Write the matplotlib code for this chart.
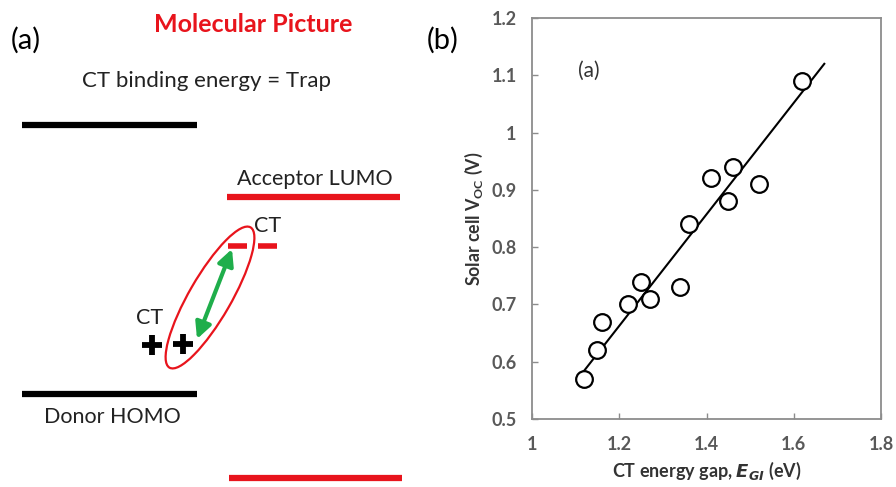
import matplotlib
matplotlib.use("Agg")
import matplotlib.pyplot as plt
from matplotlib.patches import Ellipse, FancyArrowPatch

plt.rcParams['font.family'] = ['Lato', 'DejaVu Sans']
plt.rcParams['mathtext.fontset'] = 'custom'
plt.rcParams['mathtext.rm'] = 'Lato'
plt.rcParams['mathtext.bf'] = 'Lato:bold'
plt.rcParams['mathtext.bfit'] = 'DejaVu Sans:italic:bold'

# ---- data (panel b) ----
ct_gap = [1.12, 1.15, 1.16, 1.22, 1.25, 1.27, 1.34, 1.36, 1.41, 1.45, 1.46, 1.52, 1.62]
voc = [0.57, 0.62, 0.67, 0.70, 0.74, 0.71, 0.73, 0.84, 0.92, 0.88, 0.94, 0.91, 1.09]
fit_x = [1.11, 1.67]
fit_y = [0.575, 1.12]
x_ticks = [1.0, 1.2, 1.4, 1.6, 1.8]
x_tick_labels = ["1", "1.2", "1.4", "1.6", "1.8"]
y_ticks = [0.5, 0.6, 0.7, 0.8, 0.9, 1.0, 1.1, 1.2]
y_tick_labels = ["0.5", "0.6", "0.7", "0.8", "0.9", "1", "1.1", "1.2"]

W, H = 896, 487
fig = plt.figure(figsize=(W / 100, H / 100), dpi=100)

# ---- panel (a): diagram in pixel coordinates ----
axd = fig.add_axes([0, 0, 421 / W, 1])
axd.set_xlim(0, 421)
axd.set_ylim(H, 0)
axd.axis('off')

red = '#e8141c'
green = '#1fae4b'
txt = '#222222'

axd.text(11, 40, "(a)", fontsize=21, ha='left', va='center', color='black')
axd.text(253, 25, "Molecular Picture", fontsize=18, fontweight='bold',
         ha='center', va='center', color=red)
axd.text(206, 81, "CT binding energy = Trap", fontsize=16, ha='center',
         va='center', color=txt)

# energy levels
axd.plot([22, 197], [125, 125], color='black', lw=4.5, solid_capstyle='butt')
axd.plot([22, 197], [394, 394], color='black', lw=4.5, solid_capstyle='butt')
axd.plot([227, 400], [197, 197], color=red, lw=4.5, solid_capstyle='butt')
axd.plot([229, 402], [478, 478], color=red, lw=4.5, solid_capstyle='butt')

axd.text(315, 179, "Acceptor LUMO", fontsize=15.5, ha='center', va='center', color=txt)
axd.text(112, 417, "Donor HOMO", fontsize=15.5, ha='center', va='center', color=txt)
axd.text(268, 226, "CT", fontsize=15.5, ha='center', va='center', color=txt)
axd.text(150, 318, "CT", fontsize=15.5, ha='center', va='center', color=txt)

# CT electron dashes
axd.plot([228, 247], [246, 246], color=red, lw=4, solid_capstyle='butt')
axd.plot([258, 277], [246, 246], color=red, lw=4, solid_capstyle='butt')

# plus signs
for cx, cy in [(152, 345), (183, 344)]:
    axd.plot([cx - 10, cx + 10], [cy, cy], color='black', lw=4.2, solid_capstyle='butt')
    axd.plot([cx, cx], [cy - 10, cy + 10], color='black', lw=4.2, solid_capstyle='butt')

# ellipse
axd.add_patch(Ellipse((210, 297.5), 162, 42, angle=-60.0, fill=False,
                      edgecolor=red, lw=1.6))
# double arrow
axd.add_patch(FancyArrowPatch((232, 249), (197, 339), arrowstyle='<|-|>',
                              mutation_scale=24, color=green, lw=3,
                              shrinkA=0, shrinkB=0))

# ---- panel (b): scatter ----
fig.text(427 / W, 1 - 40 / H, "(b)", fontsize=21, ha='left', va='center', color='black')

ax = fig.add_axes([532 / W, 1 - 419 / H, 349 / W, 401 / H])
ax.plot(fit_x, fit_y, color='black', lw=1.5)
ax.plot(ct_gap, voc, linestyle='none', marker='o', markersize=12,
        markerfacecolor='white', markeredgecolor='black', markeredgewidth=1.6)
ax.set_xlim(1.0, 1.8)
ax.set_ylim(0.5, 1.2)
ax.set_xticks(x_ticks)
ax.set_xticklabels(x_tick_labels)
ax.set_yticks(y_ticks)
ax.set_yticklabels(y_tick_labels)
gray = '#8c8c8c'
for s in ax.spines.values():
    s.set_color(gray)
    s.set_linewidth(1.3)
ax.tick_params(axis='both', direction='in', length=4, width=1, color=gray,
               labelsize=13, labelcolor='#595959')
ax.tick_params(axis='y', pad=11)
ax.tick_params(axis='x', pad=12)
for lab in ax.get_xticklabels() + ax.get_yticklabels():
    lab.set_fontweight('bold')

ax.text(1.105, 1.108, "(a)", fontsize=15, ha='left', va='center', color='#333333')

ax.set_xlabel(r"CT energy gap, $\mathbfit{E}_{\mathbfit{GI}}$ (eV)", fontsize=13,
              fontweight='bold', color='#333333', labelpad=5)
ax.set_ylabel(r"Solar cell V$_{\mathbf{OC}}$ (V)", fontsize=12.8,
              fontweight='bold', color='#333333', labelpad=5)

fig.savefig("out.png", dpi=100)
